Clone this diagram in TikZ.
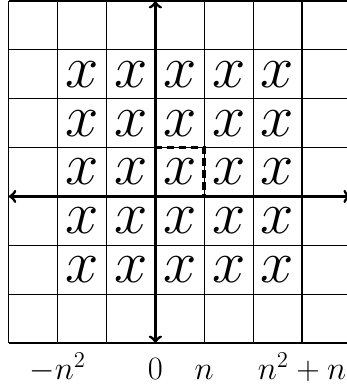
\documentclass[tikz,border=0pt]{standalone}
\usepackage{amsmath}
\begin{document}
\begin{tikzpicture}[
  cellmark/.style={font=\Huge, scale=1.4, inner sep=0pt},
  ticklabel/.style={font=\LARGE, scale=1.1, anchor=base},
  axisline/.style={line width=1.7pt, <->},
  unitcell/.style={line width=2.1pt, dash pattern=on 4.5pt off 2.5pt}]
  \useasboundingbox (-3.18,-3.92) rectangle (3.92,4.02);

  % lattice
  \draw[line width=0.7pt] (-3,-3) grid (4,4);

  % points in the square
  \foreach \i in {-2,...,2}
    \foreach \j in {-2,...,2}
      \node[cellmark] (x\i\j) at (\i+0.5,\j+0.5) {$x$};

  % axes
  \coordinate (west) at (-3,0);
  \coordinate (east) at (4,0);
  \coordinate (south) at (0,-3);
  \coordinate (north) at (0,4);
  \draw[axisline] (west) -- (east);
  \draw[axisline] (south) -- (north);

  % fundamental cell
  \draw[unitcell] (0,0) rectangle (1,1);

  % ticks
  \node[ticklabel] (lmin) at (-2,-3.75) {$-n^2$};
  \node[ticklabel] (lzero) at (0,-3.75) {$0$};
  \node[ticklabel] (lone) at (1,-3.75) {$n$};
  \node[ticklabel] (lmax) at (3,-3.75) {$n^2+n$};
\end{tikzpicture}
\end{document}
